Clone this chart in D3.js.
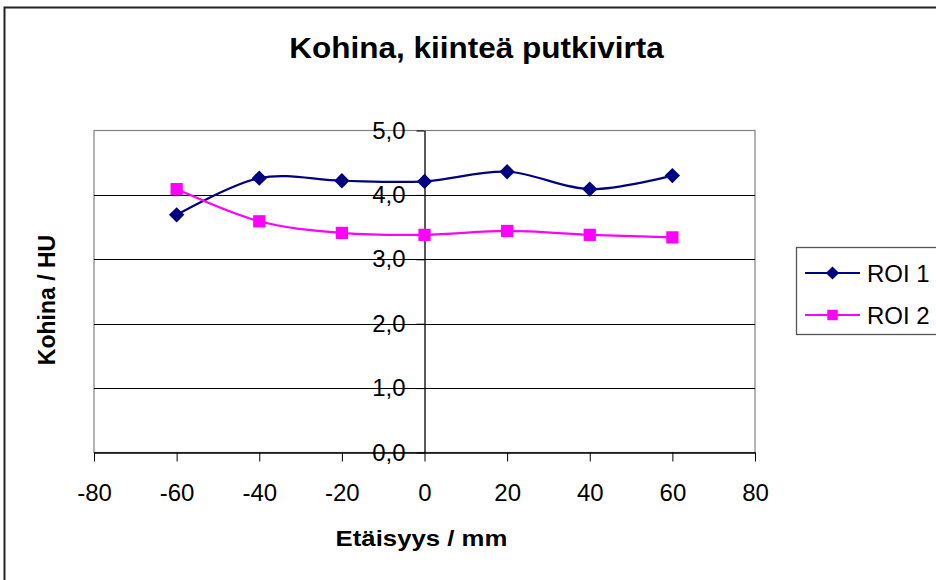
<!DOCTYPE html>
<html>
<head>
<meta charset="utf-8">
<script src="https://cdn.jsdelivr.net/npm/d3@7"></script>
<style>
  html, body { margin: 0; padding: 0; background: #fff; }
  svg { display: block; font-family: Arial, "Liberation Sans", sans-serif; }
</style>
</head>
<body>
<svg id="chart" width="936" height="580"></svg>
<script>
// Distances along the tube (mm)
const distances = [-60, -40, -20, 0, 20, 40, 60];
// Noise per region of interest (HU)
const roi1 = [3.69, 4.26, 4.22, 4.21, 4.36, 4.09, 4.30];
const roi2 = [4.09, 3.59, 3.41, 3.38, 3.44, 3.38, 3.34];
const seriesNames = ["ROI 1", "ROI 2"];
const xTicks = [-80, -60, -40, -20, 0, 20, 40, 60, 80];
const yTicks = [0, 1, 2, 3, 4, 5];

const svg = d3.select("#chart");

const plot = { left: 94, right: 755, top: 130.5, bottom: 452.5 };
const x = d3.scaleLinear().domain([-80, 80]).range([plot.left, plot.right]);
const y = d3.scaleLinear().domain([0, 5]).range([plot.bottom, plot.top]);
const fmtX = d => String(d);
const fmtY = d => d3.format(".1f")(d).replace(".", ",");

// Outer chart frame
svg.append("rect")
  .attr("x", 4.5).attr("y", 7.5).attr("width", 940).attr("height", 590)
  .attr("fill", "#fff").attr("stroke", "#222").attr("stroke-width", 2);

// Plot area frame
svg.append("rect")
  .attr("x", plot.left).attr("y", plot.top)
  .attr("width", plot.right - plot.left).attr("height", plot.bottom - plot.top)
  .attr("fill", "none").attr("stroke", "#808080").attr("stroke-width", 1.2);

// Horizontal gridlines
svg.append("g").selectAll("line")
  .data(yTicks.filter(d => d > 0 && d < 5))
  .join("line")
  .attr("x1", plot.left).attr("x2", plot.right)
  .attr("y1", d => Math.round(y(d)) + 0.5).attr("y2", d => Math.round(y(d)) + 0.5)
  .attr("stroke", "#000").attr("stroke-width", 1);

// X axis along the bottom
const xAxis = svg.append("g")
  .attr("transform", `translate(0,${plot.bottom})`)
  .call(d3.axisBottom(x).tickValues(xTicks).tickFormat(fmtX)
    .tickSizeInner(9).tickSizeOuter(0).tickPadding(22));
xAxis.select(".domain").attr("stroke", "#000").attr("stroke-width", 1.3);
xAxis.selectAll(".tick line").attr("stroke", "#000");
xAxis.selectAll(".tick text")
  .attr("font-size", 24).attr("fill", "#000")
  .attr("font-family", "Arial, 'Liberation Sans', sans-serif");

// Y axis crossing at zero distance
const yAxis = svg.append("g")
  .attr("transform", `translate(${x(0)},0)`)
  .call(d3.axisLeft(y).tickValues(yTicks).tickFormat(fmtY)
    .tickSizeInner(8).tickSizeOuter(0).tickPadding(11));
yAxis.select(".domain").attr("stroke", "#000").attr("stroke-width", 1.3);
yAxis.selectAll(".tick line").attr("stroke", "#000");
yAxis.selectAll(".tick text")
  .attr("font-size", 24).attr("fill", "#000")
  .attr("font-family", "Arial, 'Liberation Sans', sans-serif");

// Smoothed series lines
const line = d3.line()
  .x((d, i) => x(distances[i]))
  .y(d => y(d))
  .curve(d3.curveCatmullRom.alpha(0));

const series = [
  { name: seriesNames[0], values: roi1, color: "#000080", symbol: d3.symbolDiamond2, size: 150 },
  { name: seriesNames[1], values: roi2, color: "#FF00FF", symbol: d3.symbolSquare, size: 150 }
];

series.forEach(s => {
  svg.append("path")
    .attr("d", line(s.values))
    .attr("fill", "none").attr("stroke", s.color).attr("stroke-width", 2.2);
  svg.append("g").selectAll("path")
    .data(s.values)
    .join("path")
    .attr("transform", (d, i) => `translate(${x(distances[i])},${y(d)})`)
    .attr("d", d3.symbol().type(s.symbol).size(s.size))
    .attr("fill", s.color);
});

// Titles (slightly widened glyphs)
svg.append("text")
  .attr("transform", "translate(476.5,58) scale(1.05,1)")
  .attr("text-anchor", "middle").attr("font-size", 30).attr("font-weight", "bold")
  .text("Kohina, kiinteä putkivirta");

svg.append("text")
  .attr("transform", "translate(421.5,545.5) scale(1.12,1)")
  .attr("text-anchor", "middle").attr("font-size", 23).attr("font-weight", "bold")
  .text("Etäisyys / mm");

svg.append("text")
  .attr("transform", "translate(55,300) rotate(-90)")
  .attr("text-anchor", "middle").attr("font-size", 23).attr("font-weight", "bold")
  .text("Kohina / HU");

// Legend
const legend = svg.append("g");
legend.append("rect")
  .attr("x", 796.5).attr("y", 247.5).attr("width", 150).attr("height", 87)
  .attr("fill", "#fff").attr("stroke", "#555").attr("stroke-width", 1.3);

series.forEach((s, i) => {
  const ly = 273 + i * 42;
  legend.append("line")
    .attr("x1", 805).attr("x2", 860).attr("y1", ly).attr("y2", ly)
    .attr("stroke", s.color).attr("stroke-width", 2.2);
  legend.append("path")
    .attr("transform", `translate(832.5,${ly})`)
    .attr("d", d3.symbol().type(s.symbol).size(110))
    .attr("fill", s.color);
  legend.append("text")
    .attr("x", 867).attr("y", ly).attr("dy", "0.36em")
    .attr("font-size", 24)
    .text(s.name);
});
</script>
</body>
</html>
